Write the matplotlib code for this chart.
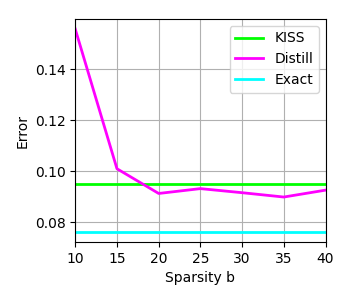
import matplotlib
matplotlib.use("Agg")
import matplotlib.pyplot as plt

sparsity = [10, 15, 20, 25, 30, 35, 40]
kiss = [0.0949] * 7
distill = [0.1557, 0.1009, 0.0912, 0.0931, 0.0915, 0.0898, 0.0925]
exact = [0.0761] * 7


def main():
    fig, ax = plt.subplots(figsize=(3.5, 3), dpi=100)
    ax.plot(sparsity, kiss, color="#00ff00", lw=2, label="KISS")
    ax.plot(sparsity, distill, color="#ff00ff", lw=2, label="Distill")
    ax.plot(sparsity, exact, color="#00ffff", lw=2, label="Exact")
    ax.set_xlim(10, 40)
    ax.set_xlabel("Sparsity b")
    ax.set_ylabel("Error")
    ax.grid(True)
    ax.legend(loc="upper right")
    fig.subplots_adjust(left=0.215, right=0.93, top=0.937, bottom=0.193)
    fig.savefig("out.png")


if __name__ == "__main__":
    main()
